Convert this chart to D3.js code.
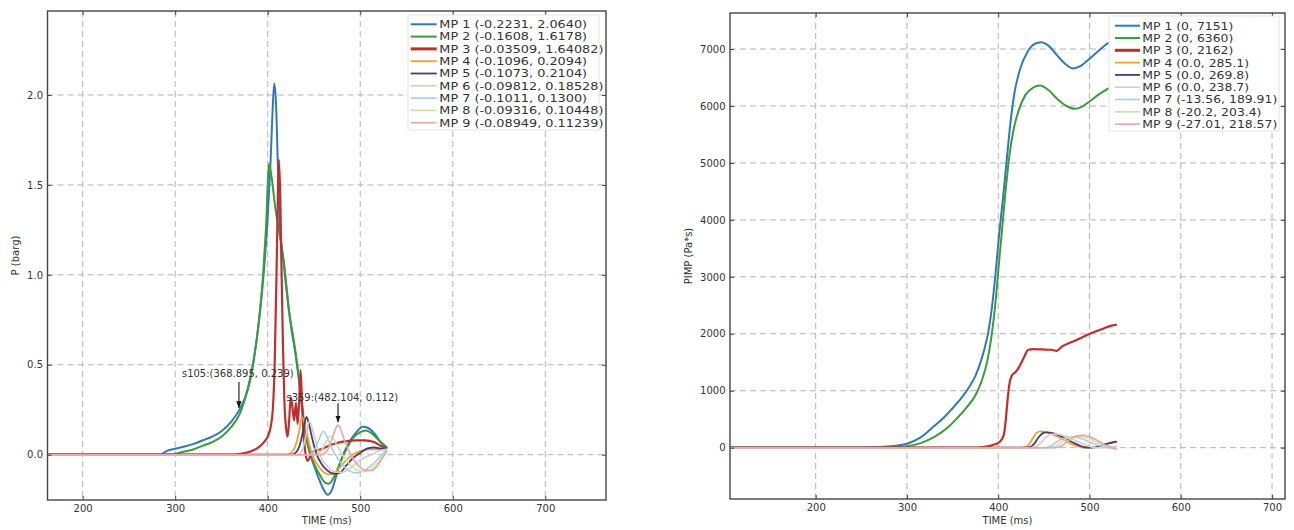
<!DOCTYPE html>
<html>
<head>
<meta charset="utf-8">
<script src="https://cdn.jsdelivr.net/npm/d3@7"></script>
<style>
  body { margin: 0; background: #fff; }
  svg text { font-family: "DejaVu Sans", sans-serif; fill: #333; }
</style>
</head>
<body>
<svg id="chart" width="1294" height="530"></svg>
<script>
// --- DATA ---
const seriesNames = ["MP 1", "MP 2", "MP 3", "MP 4", "MP 5", "MP 6", "MP 7", "MP 8", "MP 9"];

const pressureLegend = [
  "MP 1 (-0.2231, 2.0640)", "MP 2 (-0.1608, 1.6178)", "MP 3 (-0.03509, 1.64082)",
  "MP 4 (-0.1096, 0.2094)", "MP 5 (-0.1073, 0.2104)", "MP 6 (-0.09812, 0.18528)",
  "MP 7 (-0.1011, 0.1300)", "MP 8 (-0.09316, 0.10448)", "MP 9 (-0.08949, 0.11239)"
];
const impulseLegend = [
  "MP 1 (0, 7151)", "MP 2 (0, 6360)", "MP 3 (0, 2162)", "MP 4 (0.0, 285.1)",
  "MP 5 (0.0, 269.8)", "MP 6 (0.0, 238.7)", "MP 7 (-13.56, 189.91)",
  "MP 8 (-20.2, 203.4)", "MP 9 (-27.01, 218.57)"
];

// pressure P (barg) vs time (ms), one array of [t, p] per MP
const pressureData = [
  [[160,0],[284,0],[288,0.012],[293,0.025],[300,0.033],[310,0.045],[320,0.06],[330,0.08],[340,0.1],[350,0.13],[360,0.18],[368.9,0.245],[375,0.31],[380,0.39],[385,0.53],[390,0.72],[395,0.97],[400,1.32],[403,1.62],[405,1.88],[407,2.064],[409,1.95],[411,1.6],[413,1.28],[416,1.12],[420,0.93],[425,0.72],[430,0.56],[434,0.4],[438,0.22],[442,0.08],[446,0.0],[450,-0.06],[455,-0.13],[460,-0.19],[465,-0.223],[469,-0.2],[474,-0.12],[480,-0.02],[487,0.06],[495,0.12],[503,0.155],[508,0.15],[515,0.12],[522,0.07],[529,0.035]],
  [[160,0],[296,0],[300,0.005],[310,0.018],[320,0.03],[330,0.05],[340,0.07],[350,0.1],[360,0.15],[370,0.23],[378,0.36],[384,0.5],[390,0.72],[395,1.0],[398,1.25],[401.5,1.618],[404,1.55],[408,1.38],[413,1.22],[418,1.05],[423,0.8],[428,0.64],[433,0.46],[437,0.28],[441,0.12],[446,0.01],[450,-0.05],[456,-0.11],[462,-0.155],[466,-0.161],[471,-0.13],[477,-0.06],[484,0.02],[492,0.09],[500,0.125],[506,0.135],[512,0.12],[520,0.08],[529,0.04]],
  [[160,0],[360,0],[370,0.005],[380,0.015],[390,0.04],[396,0.07],[400,0.1],[403,0.15],[405.5,0.25],[407.5,0.5],[409.5,1.0],[411,1.45],[412,1.641],[413.5,1.45],[415,1.0],[416.5,0.6],[418,0.3],[420,0.14],[421.5,0.1],[423,0.18],[425,0.32],[427,0.25],[428.5,0.19],[430.5,0.29],[432.3,0.17],[434,0.3],[435.5,0.47],[437,0.3],[439,0.1],[441,0.0],[443,-0.035],[446,-0.01],[450,0.02],[458,0.03],[466,0.05],[475,0.065],[485,0.075],[495,0.08],[505,0.08],[515,0.07],[522,0.05],[529,0.035]],
  [[160,0],[420,0],[425,0.01],[430,0.05],[434,0.13],[437,0.209],[440,0.17],[444,0.08],[448,0.0],[453,-0.05],[459,-0.09],[466,-0.11],[472,-0.1],[478,-0.07],[485,-0.03],[492,0.0],[500,0.02],[510,0.03],[520,0.03],[529,0.03]],
  [[160,0],[425,0],[430,0.01],[435,0.06],[439,0.15],[442,0.21],[445,0.16],[449,0.07],[453,0.0],[458,-0.05],[465,-0.09],[472,-0.107],[478,-0.1],[485,-0.06],[492,-0.02],[500,0.01],[508,0.035],[515,0.04],[522,0.035],[529,0.03]],
  [[160,0],[432,0],[437,0.02],[441,0.1],[445,0.185],[449,0.13],[453,0.05],[458,-0.02],[465,-0.07],[472,-0.095],[480,-0.098],[488,-0.08],[495,-0.05],[503,-0.02],[512,0.0],[520,0.02],[529,0.03]],
  [[160,0],[445,0],[450,0.02],[455,0.08],[460,0.13],[464,0.1],[468,0.05],[473,0.0],[480,-0.05],[488,-0.09],[496,-0.101],[504,-0.09],[512,-0.06],[520,-0.02],[529,0.03]],
  [[160,0],[452,0],[458,0.02],[463,0.07],[468,0.104],[472,0.08],[477,0.03],[482,-0.01],[490,-0.06],[498,-0.088],[505,-0.093],[512,-0.08],[520,-0.04],[529,0.02]],
  [[160,0],[458,0],[464,0.02],[469,0.08],[473,0.14],[476,0.165],[479,0.14],[483,0.08],[487,0.03],[492,-0.02],[498,-0.06],[505,-0.085],[512,-0.089],[519,-0.06],[525,-0.01],[529,0.02]]
];

// impulse PIMP (Pa*s) vs time (ms)
const impulseData = [
  [[100,0],[250,0],[270,10],[285,30],[300,70],[315,180],[329,370],[341,540],[352,730],[360,880],[368,1060],[375,1260],[381,1520],[385,1740],[389,2020],[393,2450],[397,3050],[401,3750],[405,4350],[409,5000],[413,5650],[418,6250],[424,6650],[432,6950],[440,7090],[447,7120],[455,7060],[465,6880],[475,6720],[482,6660],[490,6700],[500,6830],[510,6970],[520,7100],[530,7151]],
  [[100,0],[270,0],[290,10],[300,25],[315,80],[330,190],[345,360],[355,520],[365,700],[375,920],[382,1180],[388,1520],[393,2000],[397,2550],[400,3100],[404,3800],[408,4500],[412,5100],[417,5600],[423,5950],[430,6200],[438,6320],[446,6360],[455,6280],[465,6120],[475,6000],[484,5950],[492,5990],[500,6080],[510,6200],[520,6300],[530,6360]],
  [[100,0],[370,0],[385,15],[395,50],[402,110],[406,220],[408,450],[410,800],[412,1100],[415,1270],[419,1330],[423,1420],[428,1580],[433,1720],[438,1730],[448,1725],[458,1720],[464,1700],[470,1780],[478,1840],[486,1890],[495,1960],[505,2030],[515,2090],[523,2140],[530,2162]],
  [[100,0],[425,0],[430,15],[434,60],[438,170],[442,260],[446,285],[452,275],[460,230],[468,170],[476,100],[484,40],[490,10],[495,0],[505,10],[515,45],[523,80],[530,100]],
  [[100,0],[430,0],[436,20],[440,80],[444,180],[449,255],[453,270],[460,255],[468,205],[476,140],[484,75],[491,25],[497,3],[503,0],[510,25],[518,65],[525,95],[530,105]],
  [[100,0],[435,0],[442,20],[447,90],[452,180],[458,235],[464,238],[472,210],[480,160],[488,100],[496,45],[503,10],[510,0],[518,5],[525,15],[530,20]],
  [[100,0],[450,0],[456,20],[462,80],[468,140],[475,180],[481,190],[488,175],[496,130],[505,70],[513,25],[521,-5],[527,-13],[530,-13.5]],
  [[100,0],[455,0],[462,20],[468,80],[474,150],[481,190],[487,203],[494,190],[502,145],[510,85],[517,30],[524,-10],[530,-20]],
  [[100,0],[462,0],[468,20],[474,90],[480,160],[486,205],[492,218],[499,200],[506,150],[513,85],[520,25],[526,-15],[530,-27]]
];

const timeTicks = [200, 300, 400, 500, 600, 700];
const pressureTicks = [0, 0.5, 1.0, 1.5, 2.0];
const impulseTicks = [0, 1000, 2000, 3000, 4000, 5000, 6000, 7000];

// annotations on the pressure plot (arrow tip in data units)
const noteTexts = ["s105:(368.895, 0.239)", "s359:(482.104, 0.112)"];
const noteTimes = [368.895, 476];
const noteValues = [0.26, 0.18];

// --- STILE ---
const colors = ["#2f7ab5", "#3c9b3c", "#bf2f2d", "#f2a030", "#4b3c74", "#d6cdc3", "#a9cde3", "#c9e3a0", "#eea3a8"];
const widths = [2, 2, 2.2, 1.8, 1.8, 1.6, 1.6, 1.6, 1.6];

const svg = d3.select("#chart");

// marker freccia
svg.append("defs").append("marker")
    .attr("id", "arrow")
    .attr("viewBox", "0 0 10 10")
    .attr("refX", 10).attr("refY", 5)
    .attr("markerWidth", 6).attr("markerHeight", 6)
    .attr("orient", "auto")
  .append("path").attr("d", "M0,1 L10,5 L0,9 Z").attr("fill", "#111");

function drawPanel(cfg) {
  const x = d3.scaleLinear().domain(cfg.xDomain).range([cfg.left, cfg.right]);
  const y = d3.scaleLinear().domain(cfg.yDomain).range([cfg.bottom, cfg.top]);
  const g = svg.append("g");

  g.append("clipPath").attr("id", cfg.id + "-clip")
    .append("rect")
    .attr("x", cfg.left).attr("y", cfg.top)
    .attr("width", cfg.right - cfg.left).attr("height", cfg.bottom - cfg.top);

  // grid
  g.append("g").selectAll("line").data(cfg.xTicks).join("line")
    .attr("x1", d => x(d)).attr("x2", d => x(d))
    .attr("y1", cfg.top).attr("y2", cfg.bottom)
    .attr("stroke", "#b3b3b3").attr("stroke-dasharray", "6,4");
  g.append("g").selectAll("line").data(cfg.yTicks).join("line")
    .attr("x1", cfg.left).attr("x2", cfg.right)
    .attr("y1", d => y(d)).attr("y2", d => y(d))
    .attr("stroke", "#b3b3b3").attr("stroke-dasharray", "6,4");

  // linee
  const line = d3.line().x(d => x(d[0])).y(d => y(d[1])).curve(d3.curveMonotoneX);
  g.append("g").attr("clip-path", `url(#${cfg.id}-clip)`)
    .selectAll("path").data(cfg.data).join("path")
    .attr("d", line)
    .attr("fill", "none")
    .attr("stroke", (d, i) => colors[i])
    .attr("stroke-width", (d, i) => widths[i])
    .attr("stroke-linejoin", "round");

  // assi (tick verso l'interno su tutti i lati)
  const styleAxis = sel => {
    sel.select(".domain").remove();
    sel.selectAll(".tick line").attr("stroke", "#444");
    sel.selectAll(".tick text").attr("font-size", 10).attr("fill", "#333")
      .attr("font-family", "DejaVu Sans, sans-serif");
  };
  g.append("g").attr("transform", `translate(0,${cfg.bottom})`)
    .call(d3.axisBottom(x).tickValues(cfg.xTicks).tickSizeInner(-4).tickSizeOuter(0).tickPadding(5))
    .call(styleAxis);
  g.append("g").attr("transform", `translate(0,${cfg.top})`)
    .call(d3.axisTop(x).tickValues(cfg.xTicks).tickSizeInner(-4).tickSizeOuter(0).tickFormat(""))
    .call(styleAxis);
  g.append("g").attr("transform", `translate(${cfg.left},0)`)
    .call(d3.axisLeft(y).tickValues(cfg.yTicks).tickSizeInner(-4).tickSizeOuter(0).tickPadding(4.5).tickFormat(cfg.yFormat))
    .call(styleAxis);
  g.append("g").attr("transform", `translate(${cfg.right},0)`)
    .call(d3.axisRight(y).tickValues(cfg.yTicks).tickSizeInner(-4).tickSizeOuter(0).tickFormat(""))
    .call(styleAxis);

  // cornice
  g.append("rect")
    .attr("x", cfg.left).attr("y", cfg.top)
    .attr("width", cfg.right - cfg.left).attr("height", cfg.bottom - cfg.top)
    .attr("fill", "none").attr("stroke", "#444").attr("stroke-width", 1.4);

  // etichette
  g.append("text")
    .attr("x", (cfg.left + cfg.right) / 2).attr("y", 524)
    .attr("text-anchor", "middle").attr("font-size", 10)
    .text("TIME (ms)");
  g.append("text")
    .attr("transform", `translate(${cfg.yLabelX},${(cfg.top + cfg.bottom) / 2}) rotate(-90)`)
    .attr("text-anchor", "middle").attr("font-size", 10)
    .text(cfg.yLabel);

  // legenda (testo allargato in orizzontale come nell'immagine)
  const lg = cfg.legend;
  g.append("rect")
    .attr("x", lg.x).attr("y", lg.y).attr("width", lg.w).attr("height", lg.h)
    .attr("fill", "#fff").attr("stroke", "#e4e4e4").attr("stroke-width", 1);
  const rows = g.append("g").selectAll("g").data(cfg.labels).join("g")
    .attr("transform", (d, i) => `translate(0,${lg.firstRow + i * lg.step})`);
  rows.append("line")
    .attr("x1", lg.lineX0).attr("x2", lg.lineX1)
    .attr("stroke", (d, i) => colors[i])
    .attr("stroke-width", (d, i) => i === 2 ? 3 : widths[i]);
  rows.append("text")
    .attr("transform", `translate(${lg.textX},0) scale(${lg.stretch},1)`)
    .attr("dy", "0.36em")
    .attr("font-size", lg.fontSize)
    .text(d => d);

  return { x, y, g };
}

const pressurePanel = drawPanel({
  id: "p", data: pressureData, labels: pressureLegend,
  left: 47.5, right: 606, top: 11, bottom: 500,
  xDomain: [162, 765.6], yDomain: [-0.252, 2.467],
  xTicks: timeTicks, yTicks: pressureTicks, yFormat: d3.format(".1f"),
  yLabel: "P (barg)", yLabelX: 19,
  legend: { x: 408, y: 15, w: 191, h: 115, firstRow: 24.3, step: 12.3,
            lineX0: 410.7, lineX1: 436.7, textX: 439.3, fontSize: 10.8, stretch: 1.19 }
});

drawPanel({
  id: "i", data: impulseData, labels: impulseLegend,
  left: 730, right: 1285, top: 13, bottom: 499,
  xDomain: [106.1, 714.2], yDomain: [-901, 7633],
  xTicks: timeTicks, yTicks: impulseTicks, yFormat: d3.format("d"),
  yLabel: "PIMP (Pa*s)", yLabelX: 692,
  legend: { x: 1109, y: 16, w: 170, h: 115, firstRow: 25.7, step: 12.3,
            lineX0: 1115, lineX1: 1140, textX: 1142.3, fontSize: 10.8, stretch: 1.15 }
});

// annotazioni con freccia
const notes = pressurePanel.g.append("g");
noteTexts.forEach((txt, i) => {
  const px = pressurePanel.x(noteTimes[i]);
  const py = pressurePanel.y(noteValues[i]);
  const len = i === 0 ? 26 : 19;
  notes.append("line")
    .attr("x1", px).attr("y1", py - len).attr("x2", px).attr("y2", py)
    .attr("stroke", "#111").attr("stroke-width", 1.1)
    .attr("marker-end", "url(#arrow)");
  notes.append("text")
    .attr("x", px - (i === 0 ? 57 : 51.6))
    .attr("y", py - len - (i === 0 ? 4.5 : 2.7))
    .attr("font-size", 10)
    .text(txt);
});
</script>
</body>
</html>
